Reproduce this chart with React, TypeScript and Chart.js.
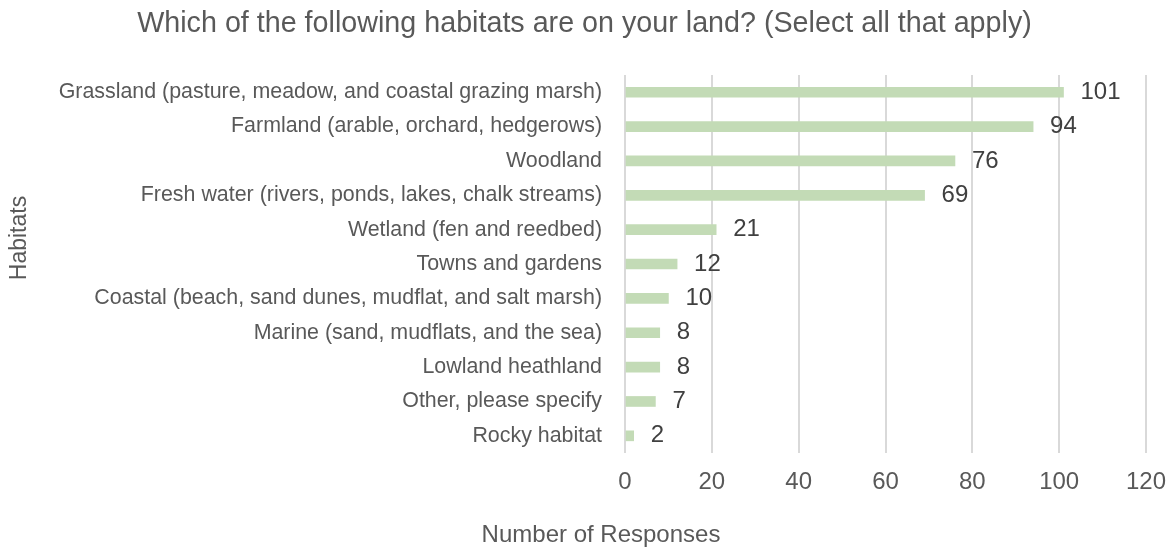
import React, { useEffect, useRef } from "react";
import { Chart, registerables } from "chart.js";

Chart.register(...registerables);

const chartTitle = "Which of the following habitats are on your land? (Select all that apply)";
const xAxisTitle = "Number of Responses";
const yAxisTitle = "Habitats";

const categories = [
  "Grassland (pasture, meadow, and coastal grazing marsh)",
  "Farmland (arable, orchard, hedgerows)",
  "Woodland",
  "Fresh water (rivers, ponds, lakes, chalk streams)",
  "Wetland (fen and reedbed)",
  "Towns and gardens",
  "Coastal (beach, sand dunes, mudflat, and salt marsh)",
  "Marine (sand, mudflats, and the sea)",
  "Lowland heathland",
  "Other, please specify",
  "Rocky habitat",
];
const responses = [101, 94, 76, 69, 21, 12, 10, 8, 8, 7, 2];
const xMin = 0;
const xMax = 120;
const xStep = 20;

const FONT = "'Liberation Sans', Arial, sans-serif";
const BAR_COLOR = "#c3dbb6";
const TEXT_GREY = "#595959";
const LABEL_DARK = "#404040";
const SIDE_PAD = 23;

const dataLabelsPlugin = {
  id: "dataLabels",
  afterDatasetsDraw(chart: any) {
    const ctx = chart.ctx;
    const meta = chart.getDatasetMeta(0);
    const values = chart.data.datasets[0].data;
    ctx.save();
    ctx.font = `24px ${FONT}`;
    ctx.fillStyle = LABEL_DARK;
    ctx.textAlign = "left";
    ctx.textBaseline = "middle";
    meta.data.forEach((bar: any, i: number) => {
      ctx.fillText(String(values[i]), bar.x + 17, bar.y);
    });
    ctx.restore();
  },
};

const axisTitlesPlugin = {
  id: "axisTitles",
  afterDraw(chart: any) {
    const ctx = chart.ctx;
    ctx.save();
    ctx.fillStyle = TEXT_GREY;
    ctx.textAlign = "center";
    ctx.textBaseline = "middle";
    ctx.font = `24px ${FONT}`;
    ctx.fillText(xAxisTitle, 601, 535);
    ctx.translate(20, 238);
    ctx.rotate(-Math.PI / 2);
    ctx.font = `23px ${FONT}`;
    ctx.fillText(yAxisTitle, 0, 0);
    ctx.restore();
  },
};

export default function App() {
  const canvasRef = useRef<HTMLCanvasElement | null>(null);

  useEffect(() => {
    if (!canvasRef.current) return;
    const chart = new Chart(canvasRef.current, {
      type: "bar",
      data: {
        labels: categories,
        datasets: [
          {
            data: responses,
            backgroundColor: BAR_COLOR,
            borderWidth: 0,
            barThickness: 10,
          },
        ],
      },
      options: {
        indexAxis: "y",
        responsive: false,
        animation: false,
        layout: { padding: { left: SIDE_PAD, right: SIDE_PAD, top: 0, bottom: 0 } },
        plugins: {
          legend: { display: false },
          tooltip: { enabled: false },
          title: {
            display: true,
            text: chartTitle,
            color: TEXT_GREY,
            font: { family: FONT, size: 28.7, weight: "normal" },
            padding: { top: 6.8, bottom: 33.8 },
          },
        },
        scales: {
          x: {
            min: xMin,
            max: xMax,
            afterFit: (scale: any) => {
              scale.height = 94;
              scale.paddingLeft = 0;
              scale.paddingRight = 0;
            },
            ticks: {
              stepSize: xStep,
              color: TEXT_GREY,
              font: { family: FONT, size: 24 },
              padding: 15,
            },
            grid: {
              color: "#d9d9d9",
              lineWidth: 2,
              drawTicks: false,
              tickLength: 0,
            },
            border: { display: false },
          },
          y: {
            afterFit: (scale: any) => {
              scale.width = 625 - SIDE_PAD;
              scale.paddingTop = 0;
              scale.paddingBottom = 0;
            },
            ticks: {
              color: TEXT_GREY,
              font: { family: FONT, size: 21.4 },
              padding: 23,
              autoSkip: false,
            },
            grid: { display: false, drawTicks: false, tickLength: 0 },
            border: { display: false },
          },
        },
      },
      plugins: [dataLabelsPlugin, axisTitlesPlugin],
    });
    return () => chart.destroy();
  }, []);

  return (
    <div style={{ position: "fixed", left: 0, top: 0, width: 1169, height: 547, background: "#ffffff" }}>
      <canvas ref={canvasRef} width={1169} height={547} style={{ width: 1169, height: 547 }} />
    </div>
  );
}
